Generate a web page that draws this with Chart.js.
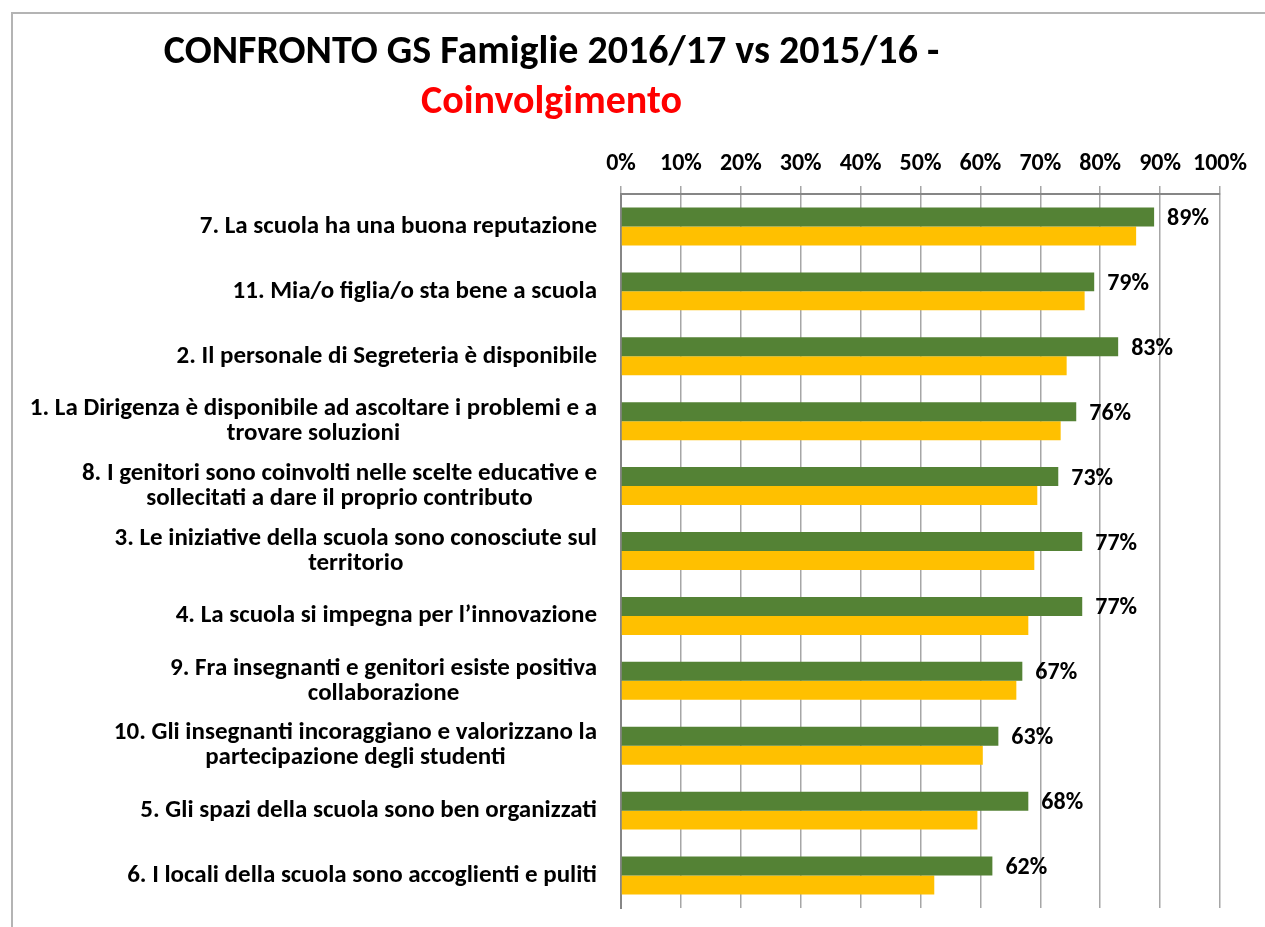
<!DOCTYPE html>
<html lang="it">
<head>
<meta charset="UTF-8">
<title>CONFRONTO GS Famiglie - Coinvolgimento</title>
<script src="https://cdn.jsdelivr.net/npm/chart.js"></script>
<style>
  body { margin: 0; background: #fff; font-family: Calibri, Carlito, Lato, sans-serif; }
  #frame { position: absolute; left: 11px; top: 12px; width: 1400px; height: 1000px; border: 2px solid #b4b4b4; }
  .title { position: absolute; left: 0; width: 1103px; text-align: center; font-weight: bold; white-space: nowrap; line-height: 48px; font-size: 40px; }
  #t1 { top: 26px; color: #000; }
  #t2 { top: 76px; color: #ff0000; }
  #chart { position: absolute; left: 0; top: 0; }
</style>
</head>
<body>
<div id="frame"></div>
<canvas id="chart" width="1265" height="927"></canvas>
<div class="title" id="t1">CONFRONTO GS Famiglie 2016/17 vs 2015/16 -</div>
<div class="title" id="t2">Coinvolgimento</div>
<script>
  const categories = [
    '7. La scuola ha una buona reputazione',
    '11. Mia/o figlia/o sta bene a scuola',
    '2. Il personale di Segreteria è disponibile',
    ['1. La Dirigenza è disponibile ad ascoltare i problemi e a', 'trovare soluzioni'],
    ['8. I genitori sono coinvolti nelle scelte educative e', 'sollecitati a dare il proprio contributo'],
    ['3. Le iniziative della scuola sono conosciute sul', 'territorio'],
    '4. La scuola si impegna per l’innovazione',
    ['9. Fra insegnanti e genitori esiste positiva', 'collaborazione'],
    ['10. Gli insegnanti incoraggiano e valorizzano la', 'partecipazione degli studenti'],
    '5. Gli spazi della scuola sono ben organizzati',
    '6. I locali della scuola sono accoglienti e puliti'
  ];
  const gs2016_17 = [89, 79, 83, 76, 73, 77, 77, 67, 63, 68, 62];
  const gs2015_16 = [86, 77.4, 74.4, 73.4, 69.5, 69, 68, 66, 60.4, 59.5, 52.3];
  const seriesNames = ['2016/17', '2015/16'];

  const FONT = 'Calibri, Carlito, Lato, sans-serif';

  // value labels only on the green series
  const valueLabels = {
    id: 'valueLabels',
    afterDatasetsDraw(chart) {
      const ctx = chart.ctx;
      const meta = chart.getDatasetMeta(0);
      ctx.save();
      ctx.font = 'bold 24px ' + FONT;
      ctx.fillStyle = '#000';
      ctx.textAlign = 'left';
      ctx.textBaseline = 'middle';
      meta.data.forEach((bar, i) => {
        ctx.fillText(gs2016_17[i] + '%', bar.x + 13, bar.y + 2);
      });
      ctx.restore();
    }
  };

  // category labels: block right aligned, lines centred on each other
  const catLabels = {
    id: 'catLabels',
    afterDraw(chart) {
      const ctx = chart.ctx;
      const y = chart.scales.y;
      ctx.save();
      ctx.font = 'bold 25px ' + FONT;
      ctx.fillStyle = '#000';
      ctx.textAlign = 'center';
      ctx.textBaseline = 'middle';
      const lh = 25;
      categories.forEach((lab, i) => {
        const lines = Array.isArray(lab) ? lab : [lab];
        const w = Math.max(...lines.map(l => ctx.measureText(l).width));
        const cx = 597 - w / 2;
        const cy = y.getPixelForValue(i);
        lines.forEach((l, k) => {
          ctx.fillText(l, cx, cy + (k - (lines.length - 1) / 2) * lh);
        });
      });
      ctx.restore();
    }
  };

  new Chart(document.getElementById('chart'), {
    type: 'bar',
    data: {
      labels: categories,
      datasets: [
        { label: seriesNames[0], data: gs2016_17, backgroundColor: '#548235' },
        { label: seriesNames[1], data: gs2015_16, backgroundColor: '#ffc000' }
      ]
    },
    options: {
      indexAxis: 'y',
      responsive: false,
      animation: false,
      layout: { padding: { top: 130, left: 0, right: 45, bottom: 19 } },
      datasets: { bar: { categoryPercentage: 0.585, barPercentage: 1 } },
      plugins: { legend: { display: false }, tooltip: { enabled: false } },
      scales: {
        x: {
          position: 'top',
          min: 0,
          max: 100,
          afterFit: s => { s.height = 64; },
          ticks: {
            stepSize: 10,
            callback: v => v + '%',
            color: '#000',
            font: { family: FONT, size: 24, weight: 'bold' },
            padding: 8,
            maxRotation: 0,
            autoSkip: false
          },
          grid: { color: '#a6a6a6', lineWidth: 1.5, tickLength: 8 },
          border: { color: '#868686', width: 2 }
        },
        y: {
          afterFit: s => { s.width = 621; },
          ticks: { display: false },
          grid: { display: false },
          border: { color: '#868686', width: 2 }
        }
      }
    },
    plugins: [valueLabels, catLabels]
  });
</script>
</body>
</html>
